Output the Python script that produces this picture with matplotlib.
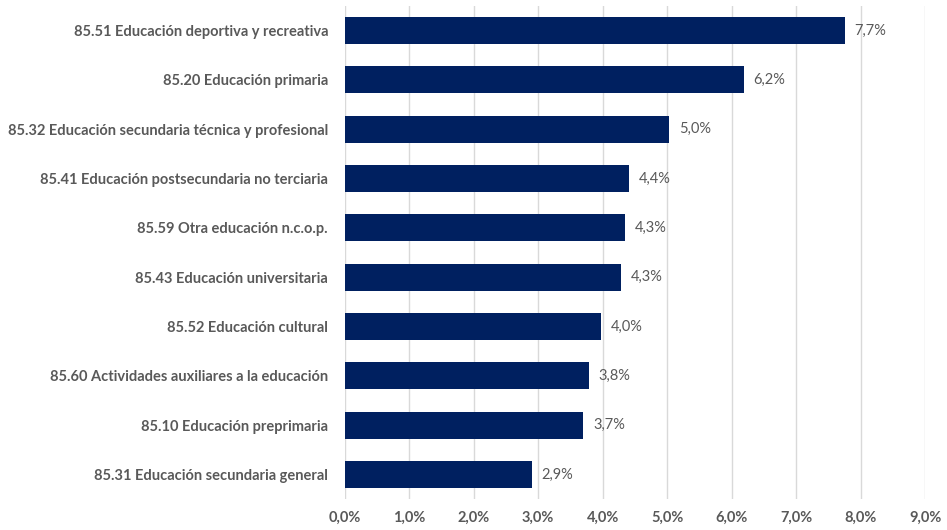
import matplotlib.pyplot as plt
from matplotlib.ticker import FuncFormatter

categories = [
    "85.51 Educación deportiva y recreativa",
    "85.20 Educación primaria",
    "85.32 Educación secundaria técnica y profesional",
    "85.41 Educación postsecundaria no terciaria",
    "85.59 Otra educación n.c.o.p.",
    "85.43 Educación universitaria",
    "85.52 Educación cultural",
    "85.60 Actividades auxiliares a la educación",
    "85.10 Educación preprimaria",
    "85.31 Educación secundaria general",
]
values = [7.75, 6.19, 5.03, 4.41, 4.35, 4.28, 3.97, 3.78, 3.70, 2.90]
labels = ["7,7%", "6,2%", "5,0%", "4,4%", "4,3%", "4,3%", "4,0%", "3,8%", "3,7%", "2,9%"]

plt.rcParams['font.family'] = ['Lato', 'DejaVu Sans']
grey = '#595959'

fig = plt.figure(figsize=(9.47, 5.30), dpi=100)
ax = fig.add_axes([0.364, 0.058, 0.613, 0.931])

y = list(range(len(categories)))
ax.barh(y, values, height=0.55, color='#002060', zorder=3)
for yi, v, lab in zip(y, values, labels):
    ax.text(v + 0.15, yi, lab, va='center', ha='left', fontsize=10.5, color=grey)

ax.set_yticks(y)
ax.set_yticklabels(categories, fontsize=10.5, fontweight='bold', color=grey)
ax.set_ylim(len(categories) - 0.5, -0.5)
ax.set_xlim(0, 9)
ax.set_xticks(range(10))
ax.xaxis.set_major_formatter(FuncFormatter(lambda x, p: f"{x:.1f}%".replace('.', ',')))
for t in ax.get_xticklabels():
    t.set_fontweight('bold')
ax.tick_params(axis='x', colors=grey, labelsize=10.5, length=0, pad=8)
ax.tick_params(axis='y', length=0, pad=12)
ax.grid(axis='x', color='#d9d9d9', linewidth=1, zorder=0)
for s in ax.spines.values():
    s.set_visible(False)

fig.savefig('out.png', dpi=100)
